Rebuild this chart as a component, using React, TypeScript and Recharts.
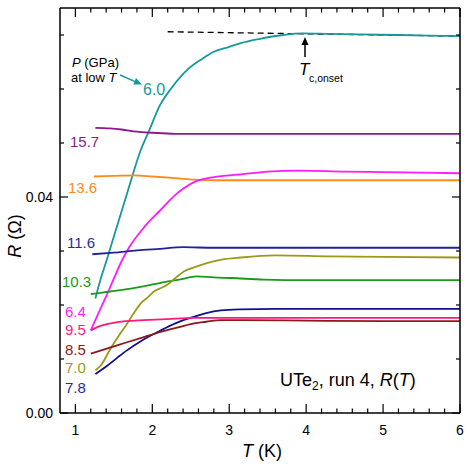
import { LineChart, Line, XAxis, YAxis } from "recharts";

// R(T) curves, one pair of arrays per pressure (GPa)
const T_60 = [1.26, 1.33, 1.4, 1.5, 1.6, 1.7, 1.85, 1.95, 2.1, 2.25, 2.45, 2.65, 2.8, 3.0, 3.15, 3.4, 3.7, 3.95, 4.3, 4.7, 5.2, 5.6, 6.0];
const R_60 = [0.0212, 0.0249, 0.028, 0.0327, 0.0373, 0.042, 0.0487, 0.052, 0.057, 0.0602, 0.0635, 0.0656, 0.0669, 0.0678, 0.0685, 0.0693, 0.07, 0.0703, 0.0702, 0.0701, 0.07, 0.0699, 0.0698];

const T_157 = [1.26, 1.45, 1.6, 1.8, 2.0, 2.3, 3.0, 4.0, 5.0, 6.0];
const R_157 = [0.0528, 0.0527, 0.0525, 0.0521, 0.0519, 0.0517, 0.0517, 0.0517, 0.0517, 0.0517];

const T_136 = [1.24, 1.5, 1.76, 2.0, 2.3, 2.55, 2.8, 3.15, 4.0, 5.0, 6.0];
const R_136 = [0.0438, 0.0439, 0.044, 0.0438, 0.0435, 0.0432, 0.0431, 0.0431, 0.0431, 0.0431, 0.0431];

const T_64 = [1.2, 1.3, 1.4, 1.5, 1.6, 1.7, 1.9, 2.1, 2.3, 2.55, 2.8, 3.15, 3.5, 3.9, 4.5, 5.0, 6.0];
const R_64 = [0.0153, 0.0185, 0.0216, 0.0249, 0.0281, 0.0307, 0.0345, 0.0375, 0.0404, 0.0428, 0.0437, 0.0442, 0.0447, 0.0449, 0.0447, 0.0446, 0.0444];

const T_116 = [1.22, 1.5, 1.8, 2.1, 2.4, 2.8, 3.5, 4.5, 6.0];
const R_116 = [0.0294, 0.0297, 0.0301, 0.0304, 0.0307, 0.0306, 0.0306, 0.0306, 0.0306];

const T_103 = [1.2, 1.45, 1.7, 1.9, 2.11, 2.35, 2.58, 2.8, 3.02, 3.45, 4.0, 5.0, 6.0];
const R_103 = [0.022, 0.0225, 0.023, 0.0235, 0.0241, 0.0247, 0.0253, 0.0251, 0.025, 0.0247, 0.0246, 0.0246, 0.0246];

const T_70 = [1.26, 1.33, 1.46, 1.56, 1.67, 1.76, 1.85, 1.94, 2.03, 2.12, 2.2, 2.3, 2.41, 2.55, 2.72, 2.9, 3.15, 3.6, 4.3, 5.0, 6.0];
const R_70 = [0.0079, 0.0088, 0.012, 0.0142, 0.0165, 0.0185, 0.0203, 0.0214, 0.0226, 0.0232, 0.0238, 0.025, 0.0262, 0.027, 0.0278, 0.0284, 0.0288, 0.0292, 0.029, 0.0289, 0.0288];

const T_78 = [1.26, 1.4, 1.55, 1.67, 1.85, 2.11, 2.3, 2.54, 2.7, 2.89, 3.15, 3.6, 4.5, 6.0];
const R_78 = [0.0072, 0.0086, 0.0103, 0.0116, 0.0133, 0.0153, 0.0166, 0.0178, 0.0185, 0.019, 0.0192, 0.0193, 0.0193, 0.0193];

const T_95 = [1.2, 1.3, 1.46, 1.65, 1.89, 2.2, 2.54, 3.0, 4.0, 5.0, 6.0];
const R_95 = [0.0153, 0.016, 0.0166, 0.017, 0.0172, 0.0174, 0.0176, 0.0176, 0.0176, 0.0176, 0.0176];

const T_85 = [1.2, 1.45, 1.67, 1.9, 2.11, 2.35, 2.54, 2.7, 2.89, 3.2, 4.0, 5.0, 6.0];
const R_85 = [0.011, 0.0121, 0.0131, 0.0141, 0.015, 0.0159, 0.0166, 0.0169, 0.0172, 0.0172, 0.0171, 0.017, 0.017];

// dashed guide to the onset
const T_ONSET = [2.2, 6.0];
const R_ONSET = [0.0706, 0.0698];

const X_TICKS = [1, 1.2, 1.4, 1.6, 1.8, 2, 2.2, 2.4, 2.6, 2.8, 3, 3.2, 3.4, 3.6, 3.8, 4, 4.2, 4.4, 4.6, 4.8, 5, 5.2, 5.4, 5.6, 5.8, 6];
const Y_TICKS = [0, 0.01, 0.02, 0.03, 0.04, 0.05, 0.06, 0.07];
const Y_LABELED = [0, 0.04];

const FONT = "'Liberation Sans', Arial, sans-serif";

const zip = (t: number[], r: number[]) => t.map((x, i) => ({ t: x, r: r[i] }));

const series = [
  { name: "6.0", data: zip(T_60, R_60), color: "#17999a" },
  { name: "15.7", data: zip(T_157, R_157), color: "#8c1a8c" },
  { name: "13.6", data: zip(T_136, R_136), color: "#ff8a1a" },
  { name: "6.4", data: zip(T_64, R_64), color: "#ff1aff" },
  { name: "11.6", data: zip(T_116, R_116), color: "#2222a0" },
  { name: "10.3", data: zip(T_103, R_103), color: "#1a9a1a" },
  { name: "7.0", data: zip(T_70, R_70), color: "#9a9a1a" },
  { name: "7.8", data: zip(T_78, R_78), color: "#101090" },
  { name: "9.5", data: zip(T_95, R_95), color: "#ff1a7a" },
  { name: "8.5", data: zip(T_85, R_85), color: "#8c1a1a" },
];

// left-side pressure labels
const labels = [
  { text: "15.7", x: 70, y: 147, color: "#8c1a8c" },
  { text: "13.6", x: 68, y: 193, color: "#ff8a1a" },
  { text: "11.6", x: 67, y: 248, color: "#2a2aa0" },
  { text: "10.3", x: 62, y: 287, color: "#1a9a1a" },
  { text: "6.4", x: 65, y: 317, color: "#ff1aff" },
  { text: "9.5", x: 65, y: 335, color: "#ff1a7a" },
  { text: "8.5", x: 65, y: 355, color: "#8c1a1a" },
  { text: "7.0", x: 65, y: 373, color: "#9a9a1a" },
  { text: "7.8", x: 65, y: 393, color: "#2a2aa0" },
];

const isMajorX = (v: number) => Number.isInteger(v);
const isMajorY = (v: number) => Y_LABELED.some((m) => Math.abs(m - v) < 1e-9);

const bottomTick = (p: any) => {
  const v = p.payload.value;
  const major = isMajorX(v);
  return (
    <g>
      <line x1={p.x} x2={p.x} y1={p.y} y2={p.y - (major ? 9 : 4.5)} stroke="#000" strokeWidth={1.2} />
      {major && (
        <text x={p.x} y={p.y + 22} textAnchor="middle" fontSize={14} fontFamily={FONT} fill="#000">
          {v}
        </text>
      )}
    </g>
  );
};

const topTick = (p: any) => {
  const major = isMajorX(p.payload.value);
  return <line x1={p.x} x2={p.x} y1={p.y} y2={p.y + (major ? 9 : 4.5)} stroke="#000" strokeWidth={1.2} />;
};

const leftTick = (p: any) => {
  const v = p.payload.value;
  const major = isMajorY(v);
  return (
    <g>
      <line x1={p.x} x2={p.x + (major ? 8 : 4)} y1={p.y} y2={p.y} stroke="#000" strokeWidth={1.2} />
      {major && (
        <text x={p.x - 7} y={p.y + 5} textAnchor="end" fontSize={14} fontFamily={FONT} fill="#000">
          {v.toFixed(2)}
        </text>
      )}
    </g>
  );
};

const rightTick = (p: any) => {
  const major = isMajorY(p.payload.value);
  return <line x1={p.x} x2={p.x - (major ? 8 : 4)} y1={p.y} y2={p.y} stroke="#000" strokeWidth={1.2} />;
};

function Arrow({ x1, y1, x2, y2, color }: { x1: number; y1: number; x2: number; y2: number; color: string }) {
  const dx = x2 - x1;
  const dy = y2 - y1;
  const len = Math.hypot(dx, dy);
  const ux = dx / len;
  const uy = dy / len;
  const hl = 8;
  const hw = 3.5;
  const bx = x2 - ux * hl;
  const by = y2 - uy * hl;
  const pts = `${x2},${y2} ${bx - uy * hw},${by + ux * hw} ${bx + uy * hw},${by - ux * hw}`;
  return (
    <g>
      <line x1={x1} y1={y1} x2={bx} y2={by} stroke={color} strokeWidth={1.5} />
      <polygon points={pts} fill={color} />
    </g>
  );
}

const axisLine = { stroke: "#000", strokeWidth: 1.5 };

export default function App() {
  return (
    <div style={{ position: "absolute", left: 0, top: 0, width: 471, height: 468, background: "#fff" }}>
      <LineChart width={471} height={468} margin={{ top: 7, right: 10, bottom: 0, left: 0 }}>
        <XAxis
          xAxisId="b"
          dataKey="t"
          type="number"
          domain={[0.8, 6]}
          allowDataOverflow
          ticks={X_TICKS}
          interval={0}
          tickSize={0}
          tickMargin={0}
          tick={bottomTick}
          height={55}
          axisLine={axisLine}
        />
        <XAxis
          xAxisId="t"
          dataKey="t"
          orientation="top"
          type="number"
          domain={[0.8, 6]}
          allowDataOverflow
          ticks={X_TICKS}
          interval={0}
          tickSize={0}
          tickMargin={0}
          tick={topTick}
          height={1}
          axisLine={axisLine}
        />
        <YAxis
          yAxisId="l"
          type="number"
          domain={[0, 0.075]}
          allowDataOverflow
          ticks={Y_TICKS}
          interval={0}
          tickSize={0}
          tickMargin={0}
          tick={leftTick}
          width={60}
          axisLine={axisLine}
        />
        <YAxis
          yAxisId="r"
          orientation="right"
          type="number"
          domain={[0, 0.075]}
          allowDataOverflow
          ticks={Y_TICKS}
          interval={0}
          tickSize={0}
          tickMargin={0}
          tick={rightTick}
          width={1}
          axisLine={axisLine}
        />
        {/* invisible series so the mirrored top/right axes get drawn */}
        <Line
          xAxisId="t"
          yAxisId="r"
          data={zip(T_ONSET, R_ONSET)}
          dataKey="r"
          stroke="none"
          dot={false}
          activeDot={false}
          legendType="none"
          isAnimationActive={false}
        />
        <Line
          xAxisId="b"
          yAxisId="l"
          data={zip(T_ONSET, R_ONSET)}
          dataKey="r"
          type="linear"
          stroke="#000"
          strokeWidth={1.3}
          strokeDasharray="6 4"
          dot={false}
          isAnimationActive={false}
        />
        {series.map((s) => (
          <Line
            key={s.name}
            xAxisId="b"
            yAxisId="l"
            data={s.data}
            dataKey="r"
            name={s.name}
            type="monotone"
            stroke={s.color}
            strokeWidth={1.8}
            dot={false}
            isAnimationActive={false}
          />
        ))}
      </LineChart>
      <svg
        width={471}
        height={468}
        style={{ position: "absolute", left: 0, top: 0, pointerEvents: "none" }}
        fontFamily={FONT}
      >
        {labels.map((l) => (
          <text key={l.text} x={l.x} y={l.y} fontSize={15} fill={l.color}>
            {l.text}
          </text>
        ))}
        <text x={72} y={67} fontSize={13} fill="#000">
          <tspan fontStyle="italic">P</tspan> (GPa)
        </text>
        <text x={71} y={82} fontSize={13} fill="#000">
          at low <tspan fontStyle="italic">T</tspan>
        </text>
        <Arrow x1={120} y1={75} x2={142} y2={84.5} color="#17999a" />
        <text x={143} y={95} fontSize={16} fill="#17999a">
          6.0
        </text>
        <Arrow x1={305} y1={57} x2={305} y2={37} color="#000" />
        <text x={299} y={75} fontSize={17} fill="#000" fontStyle="italic">
          T
        </text>
        <text x={309} y={82} fontSize={10.5} fill="#000">
          c,onset
        </text>
        <text x={280} y={386} fontSize={18} fill="#000">
          UTe
          <tspan fontSize={12} dy={4}>
            2
          </tspan>
          <tspan dy={-4}>, run 4, </tspan>
          <tspan fontStyle="italic">R</tspan>(<tspan fontStyle="italic">T</tspan>)
        </text>
        <text x={262} y={457} fontSize={18} fill="#000" textAnchor="middle">
          <tspan fontStyle="italic">T</tspan> (K)
        </text>
        <text transform="translate(21,236) rotate(-90)" fontSize={18} fill="#000" textAnchor="middle">
          <tspan fontStyle="italic">R</tspan> (Ω)
        </text>
      </svg>
    </div>
  );
}
